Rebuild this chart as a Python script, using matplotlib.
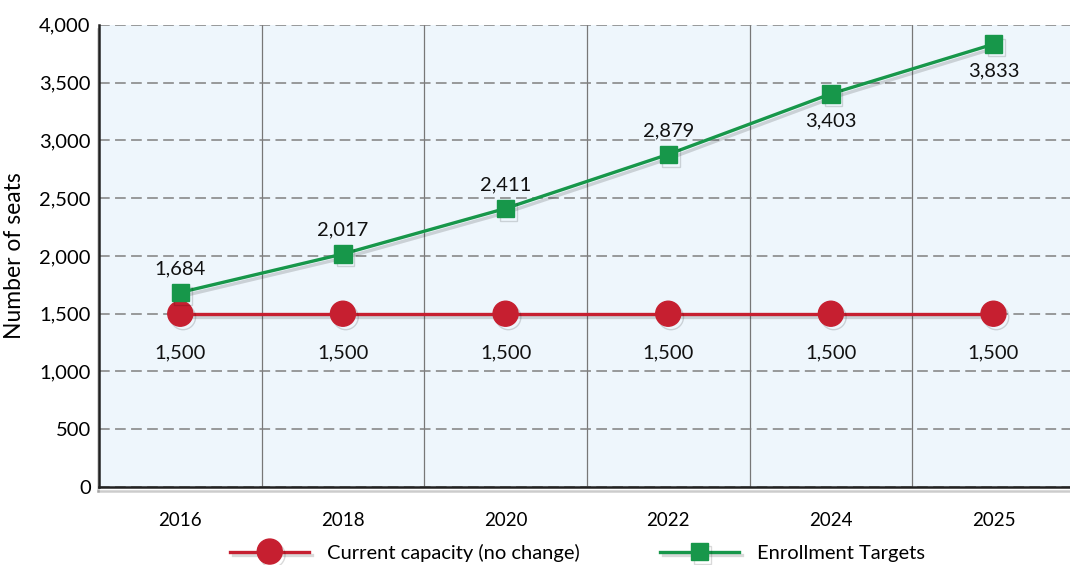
import matplotlib.pyplot as plt
import matplotlib.patheffects as pe
from matplotlib.ticker import FixedLocator, FuncFormatter

# data
years = ['2016', '2018', '2020', '2022', '2024', '2025']
capacity = [1500, 1500, 1500, 1500, 1500, 1500]
targets = [1684, 2017, 2411, 2879, 3403, 3833]
# which target labels sit below the marker instead of above
target_below = [False, False, False, False, True, True]

red = '#c61f30'
green = '#17974a'

plt.rcParams['font.family'] = ['Lato', 'DejaVu Sans']

fig = plt.figure(figsize=(10.7, 5.65), dpi=100)
ax = fig.add_axes([0.0925, 0.138, 0.912, 0.818])
ax.set_facecolor('#eef6fc')

x = list(range(len(years)))
shadow = [pe.SimpleLineShadow(offset=(2, -2.5), alpha=0.15, shadow_color='black'), pe.Normal()]

ax.plot(x, capacity, color=red, lw=2.4, marker='o', ms=18, zorder=3,
        label='Current capacity (no change)', path_effects=shadow)
ax.plot(x, targets, color=green, lw=2.4, marker='s', ms=12.5, zorder=4,
        label='Enrollment Targets', path_effects=shadow)

# value labels
for i, v in enumerate(capacity):
    ax.annotate(f'{v:,}', (i, v), xytext=(0, -22), textcoords='offset points',
                ha='center', va='top', fontsize=14.5, color='#111111')
for i, v in enumerate(targets):
    if target_below[i]:
        ax.annotate(f'{v:,}', (i, v), xytext=(0, -13), textcoords='offset points',
                    ha='center', va='top', fontsize=14.5, color='#111111')
    else:
        ax.annotate(f'{v:,}', (i, v), xytext=(0, 11), textcoords='offset points',
                    ha='center', va='bottom', fontsize=14.5, color='#111111')

ax.set_xlim(-0.5, len(years) - 0.5)
ax.set_ylim(0, 4000)
ax.set_xticks(x)
ax.set_xticklabels(years, fontsize=13.5)
ax.set_yticks(range(0, 4001, 500))
ax.yaxis.set_major_formatter(FuncFormatter(lambda v, p: f'{int(v):,}'))
ax.tick_params(axis='y', labelsize=14.5, length=0, pad=6)
ax.tick_params(axis='x', length=0, pad=18)

# gridlines: dashed rows, solid dividers between years
ax.grid(axis='y', color='#808080', lw=1.1, ls=(0, (7, 3.5)))
ax.xaxis.set_minor_locator(FixedLocator([i + 0.5 for i in x[:-1]]))
ax.grid(axis='x', which='minor', color='#777777', lw=0.9, ls='-')
ax.grid(axis='x', which='major', visible=False)
ax.tick_params(axis='x', which='minor', length=0)
ax.set_axisbelow(True)

for side in ['top', 'right']:
    ax.spines[side].set_visible(False)
for side in ['left', 'bottom']:
    ax.spines[side].set_color('#222222')
    ax.spines[side].set_linewidth(1.8)
    ax.spines[side].set_path_effects([pe.SimpleLineShadow(offset=(-1, -3), alpha=0.2), pe.Normal()])

ax.set_ylabel('Number of seats', fontsize=16.5, labelpad=10)

fig.legend(loc='center', bbox_to_anchor=(0.54, 0.022), ncol=2, frameon=False,
           fontsize=14.5, handlelength=3.9, columnspacing=4.0, handletextpad=0.9)

fig.savefig('out.png', dpi=100)
